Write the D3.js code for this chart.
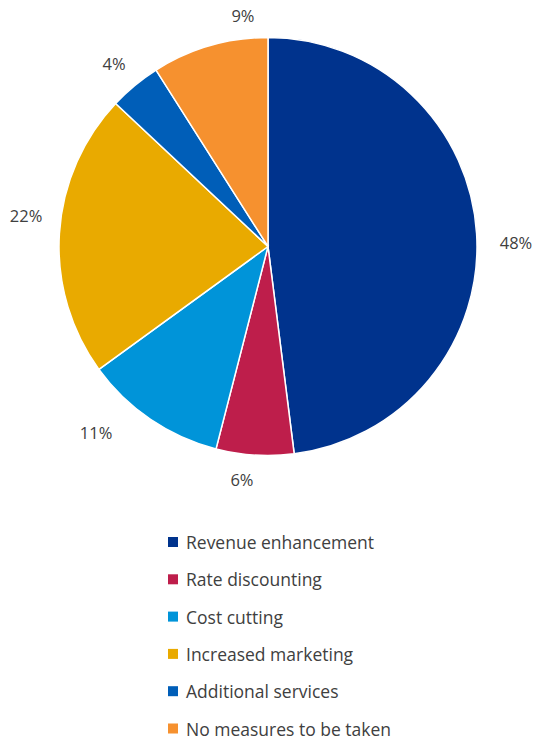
<!DOCTYPE html>
<html>
<head>
<meta charset="utf-8">
<script src="https://cdn.jsdelivr.net/npm/d3@7"></script>
<style>
  html, body { margin: 0; padding: 0; background: #fff; }
  svg { display: block; font-family: "Open Sans", Lato, sans-serif; }
</style>
</head>
<body>
<svg id="chart" width="535" height="741"></svg>
<script>
// Survey responses: share of hotels by planned measure
const categories = [
  "Revenue enhancement",
  "Rate discounting",
  "Cost cutting",
  "Increased marketing",
  "Additional services",
  "No measures to be taken"
];
const shares = [48, 6, 11, 22, 4, 9];
const colors = ["#00338D", "#BE1E4B", "#0094D9", "#E9AA00", "#005EB8", "#F6912F"];

// Small angular nudges (degrees) for labels that would crowd neighbours
const labelNudge = [2.7, 2.8, 8.6, 3.8, -0.5, 10];
const labelGap = [39, 25, 44, 35, 30, 23];

const svg = d3.select("#chart");
const cx = 268, cy = 246.5, radius = 209;

const data = categories.map((c, i) => ({ name: c, value: shares[i], color: colors[i], i }));

const pie = d3.pie().value(d => d.value).sort(null);
const arc = d3.arc().innerRadius(0).outerRadius(radius);
const arcs = pie(data);

const g = svg.append("g").attr("transform", `translate(${cx},${cy})`);

g.selectAll("path.slice")
  .data(arcs)
  .join("path")
  .attr("class", "slice")
  .attr("d", arc)
  .attr("fill", d => d.data.color)
  .attr("stroke", "#fff")
  .attr("stroke-width", 1.5);

// Percentage labels outside the pie
g.selectAll("text.pct")
  .data(arcs)
  .join("text")
  .attr("class", "pct")
  .attr("x", d => {
    const a = (d.startAngle + d.endAngle) / 2 + labelNudge[d.index] * Math.PI / 180;
    return Math.sin(a) * (radius + labelGap[d.index]);
  })
  .attr("y", d => {
    const a = (d.startAngle + d.endAngle) / 2 + labelNudge[d.index] * Math.PI / 180;
    return -Math.cos(a) * (radius + labelGap[d.index]);
  })
  .attr("text-anchor", "middle")
  .attr("dominant-baseline", "central")
  .attr("font-size", 16.5)
  .attr("fill", "#404040")
  .text(d => d.data.value + "%");

// Legend
const legend = svg.append("g").attr("transform", "translate(168,542)");
const rowH = 37.3;
const rows = legend.selectAll("g.row")
  .data(data)
  .join("g")
  .attr("class", "row")
  .attr("transform", (d, i) => `translate(0,${i * rowH})`);

rows.append("rect")
  .attr("x", 0)
  .attr("y", -5)
  .attr("width", 10)
  .attr("height", 10)
  .attr("fill", d => d.color);

rows.append("text")
  .attr("x", 18)
  .attr("y", 0)
  .attr("dominant-baseline", "central")
  .attr("font-size", 17.5)
  .attr("fill", "#404040")
  .text(d => d.name);
</script>
</body>
</html>
